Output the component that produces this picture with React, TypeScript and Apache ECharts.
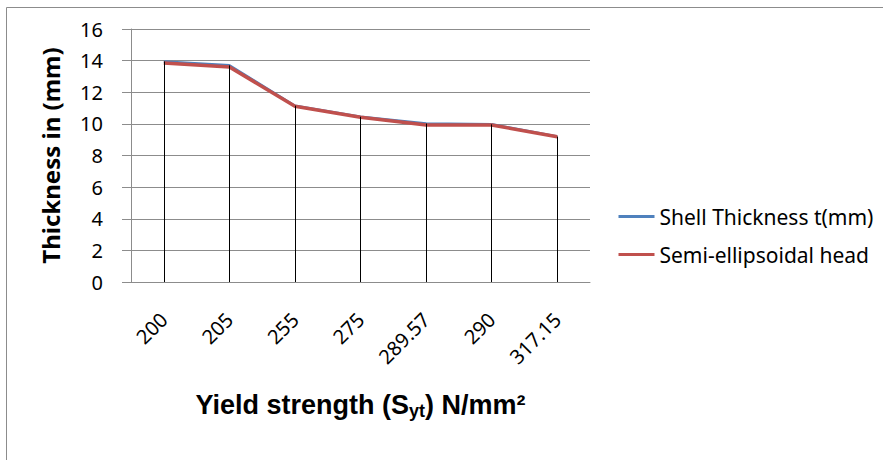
import React, { useEffect, useRef } from "react";
import * as echarts from "echarts";

const categories = ["200", "205", "255", "275", "289.57", "290", "317.15"];
const shellThickness = [13.95, 13.7, 11.15, 10.45, 10.02, 9.97, 9.2];
const semiEllipsoidal = [13.85, 13.6, 11.12, 10.42, 9.93, 9.93, 9.18];
const yTicks = { min: 0, max: 16, interval: 2 };

export default function App() {
  const ref = useRef<HTMLDivElement>(null);
  useEffect(() => {
    if (!ref.current) return;
    const chart = echarts.init(ref.current, null, { renderer: "svg" });
    const dropData = shellThickness.map((v, i) => [
      { coord: [i, Math.max(v, semiEllipsoidal[i])] },
      { coord: [i, 0] },
    ]);
    chart.setOption({
      animation: false,
      backgroundColor: "#ffffff",
      grid: { left: 131, right: 293, top: 29, bottom: 178 },
      graphic: [
        { type: "line", shape: { x1: 6.5, y1: 7.5, x2: 883, y2: 7.5 }, style: { stroke: "#8c8c8c", lineWidth: 1 } },
        { type: "line", shape: { x1: 6.5, y1: 7.5, x2: 6.5, y2: 460 }, style: { stroke: "#8c8c8c", lineWidth: 1 } },
      ],
      legend: {
        orient: "vertical",
        left: 612,
        top: 201,
        padding: 5,
        itemWidth: 36,
        itemHeight: 20,
        itemGap: 17,
        itemStyle: { opacity: 0 },
        lineStyle: { width: 3 },
        textStyle: { fontFamily: "Noto Sans", fontSize: 21, color: "#000" },
        data: ["Shell Thickness t(mm)", "Semi-ellipsoidal head"],
      },
      xAxis: {
        type: "category",
        data: categories,
        boundaryGap: true,
        axisLine: { show: true, lineStyle: { color: "#8c8c8c", width: 1 } },
        axisTick: { show: false },
        axisLabel: {
          rotate: 45,
          margin: 34,
          fontFamily: "Noto Sans",
          fontSize: 20,
          color: "#000",
        },
        name: "Yield strength (S{sub|yt}) N/mm²",
        nameLocation: "middle",
        nameGap: 108,
        nameTextStyle: {
          fontFamily: "Liberation Sans",
          fontWeight: "bold",
          fontSize: 27,
          color: "#000",
          rich: {
            sub: {
              fontFamily: "Liberation Sans",
              fontWeight: "bold",
              fontSize: 18,
              color: "#000",
              padding: [12, 0, 0, 0],
            },
          },
        },
      },
      yAxis: {
        type: "value",
        min: yTicks.min,
        max: yTicks.max,
        interval: yTicks.interval,
        axisLine: { show: true, lineStyle: { color: "#8c8c8c", width: 1 } },
        axisTick: { show: true, length: 9, lineStyle: { color: "#8c8c8c" } },
        splitLine: { show: true, lineStyle: { color: "#8c8c8c", width: 1 } },
        axisLabel: {
          margin: 28,
          fontFamily: "Noto Sans",
          fontSize: 20,
          color: "#000",
        },
        name: "Thickness in (mm)",
        nameLocation: "middle",
        nameRotate: 90,
        nameGap: 69,
        nameTextStyle: {
          fontFamily: "Noto Sans",
          fontWeight: "bold",
          fontSize: 24,
          color: "#000",
        },
      },
      series: [
        {
          name: "Shell Thickness t(mm)",
          type: "line",
          data: shellThickness,
          symbol: "none",
          lineStyle: { color: "#4F81BD", width: 2.5 },
          itemStyle: { color: "#4F81BD" },
          markLine: {
            silent: true,
            symbol: ["none", "none"],
            label: { show: false },
            lineStyle: { color: "#000", width: 1, type: "solid" },
            data: dropData,
          },
          z: 2,
        },
        {
          name: "Semi-ellipsoidal head",
          type: "line",
          data: semiEllipsoidal,
          symbol: "none",
          lineStyle: { color: "#C0504D", width: 3.5 },
          itemStyle: { color: "#C0504D" },
          z: 3,
        },
      ],
    });
    return () => chart.dispose();
  }, []);
  return (
    <div
      ref={ref}
      style={{ position: "absolute", left: 0, top: 0, width: 883, height: 460 }}
    />
  );
}
